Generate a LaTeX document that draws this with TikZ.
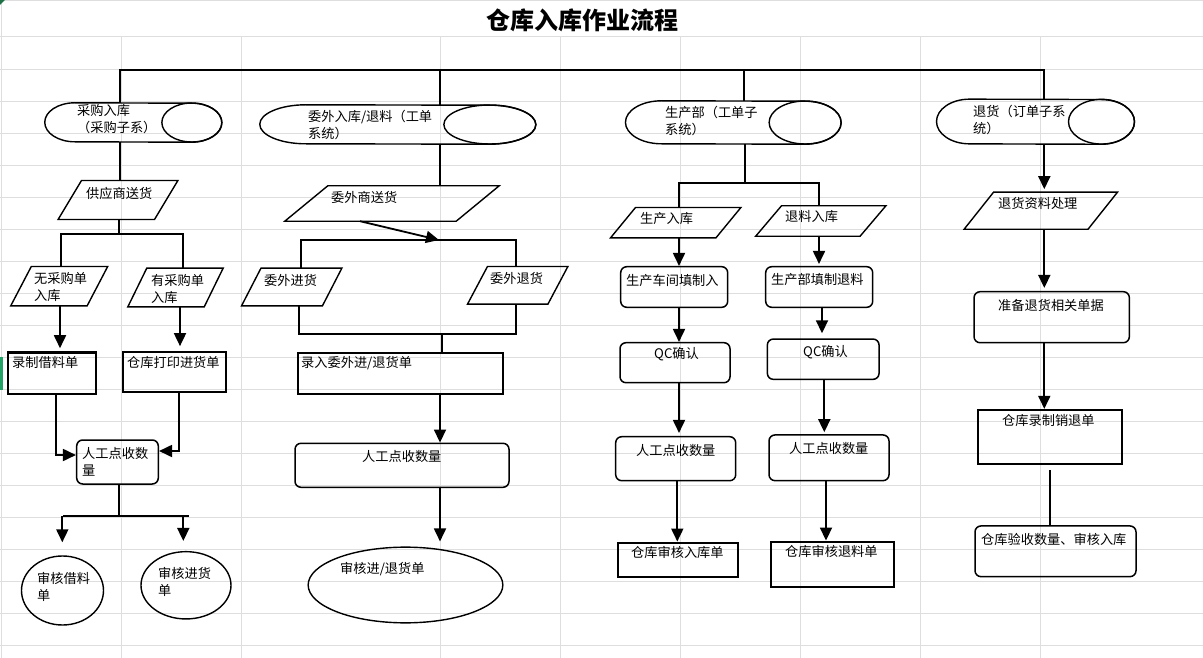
\documentclass[tikz,border=0pt]{standalone}
\usepackage{fontspec}
\setmainfont{Noto Sans CJK SC}
\usetikzlibrary{shapes.geometric,arrows.meta,calc}
\definecolor{gridc}{RGB}{222,222,222}
\definecolor{xlgreen}{RGB}{33,163,102}
\definecolor{xldark}{RGB}{30,113,69}
\tikzset{
  gridline/.style={draw=gridc, line width=1pt},
  conn/.style={draw=black, line width=2pt},
  arrow/.style={draw=black, line width=1.8pt, -{Triangle[length=13pt,width=12pt]}},
  boxR/.style={draw=black, line width=2.3pt, inner sep=0},
  boxU/.style={draw=black, line width=1.5pt, rounded corners=6pt, inner sep=0},
  boxE/.style={draw=black, line width=1.4pt, ellipse, inner sep=0},
  parastyle/.style={draw=black, line width=1.4pt, line join=miter},
  capstyle/.style={draw=black, line width=1.4pt},
  lbl/.style={inner sep=0, anchor=west, align=left, font=\fontsize{13.2}{17}\selectfont},
}
% name, cx, cy, w, h, skew
\newcommand\mypara[6]{%
  \node[inner sep=0, minimum width=#4pt, minimum height=#5pt] (#1) at (#2,#3) {};
  \draw[parastyle] ($(#1.north west)+(#6/2,0)$) -- ($(#1.north east)+(#6/2,0)$) -- ($(#1.south east)+(-#6/2,0)$) -- ($(#1.south west)+(-#6/2,0)$) -- cycle;
}
% name, cx, cy, w, h, rx
\newcommand\mycap[6]{%
  \node[inner sep=0, minimum width=#4pt, minimum height=#5pt] (#1) at (#2,#3) {};
  \draw[capstyle] ($(#1.north west)+(#6,0)$) arc[start angle=-90, end angle=-270, x radius=#6, y radius=#5/2] -- ($(#1.south east)+(-#6,0)$) arc[start angle=90, end angle=-90, x radius=#6, y radius=#5/2] -- cycle;
  \draw[capstyle] ($(#1.east)+(-#6,0)$) ellipse[x radius=#6, y radius=#5/2];
}
\begin{document}
\begin{tikzpicture}[x=1pt,y=-1pt]
\useasboundingbox (0,0) rectangle (1203,658);
\fill[white] (0,0) rectangle (1203,658);
% spreadsheet grid
\draw[gridline] (0,0.5) -- (1203,0.5);
\draw[gridline] (0,37) -- (1203,37);
\foreach \k in {1,...,19} {\draw[gridline] (0,{37+32.05*\k}) -- (1203,{37+32.05*\k});}
\draw[gridline] (1.5,0) -- (1.5,658);
\foreach \xx in {121,241,440,560,680,800,920,1040} {\draw[gridline] (\xx,37) -- (\xx,658);}
\fill[xldark] (0,0) -- (5,0) -- (0,5) -- cycle;
\fill[xlgreen] (0,357) rectangle (2.5,389.6);

% title
\node[font=\fontsize{24}{28}\selectfont\bfseries, inner sep=0] (title) at (582.5,20) {仓库入库作业流程};

% capsules
\mycap{C1}{133.3}{122.5}{176.7}{39}{30}
\mycap{C2}{397.8}{124.5}{275.7}{39}{46}
\mycap{C3}{733.3}{122.5}{215.3}{43}{36}
\mycap{C4}{1035.5}{121.7}{197.6}{44.7}{33}

% parallelograms
\mypara{P1}{118}{200}{96}{38.6}{23.4}
\mypara{P2}{392}{203.5}{171}{35}{43}
\mypara{P3}{59.2}{286.2}{76}{39}{20.6}
\mypara{P4}{175.5}{287.5}{76}{38.4}{19}
\mypara{P5}{291.7}{287}{80.5}{37.4}{19.5}
\mypara{P6}{517.7}{285.3}{80}{37.3}{20}
\mypara{P7}{675.7}{222.7}{105}{30}{25}
\mypara{P8}{820.8}{221}{104}{30}{25.8}
\mypara{P9}{1040.8}{210.7}{123.5}{36.7}{29.5}

% rectangles
\node[boxR, minimum width=87.4pt, minimum height=41.7pt] (R1) at (52,373.2) {};
\node[boxR, minimum width=102.4pt, minimum height=39.4pt] (R2) at (174.5,372) {};
\node[boxR, minimum width=205pt, minimum height=41.3pt] (R3) at (400.5,373.3) {};
\node[boxR, minimum width=120.6pt, minimum height=34.6pt] (R4) at (678,560) {};
\node[boxR, minimum width=123.6pt, minimum height=45pt] (R5) at (832.5,564.2) {};
\node[boxR, minimum width=144pt, minimum height=54pt] (R6) at (1049.7,437) {};

% rounded boxes
\node[boxU, minimum width=81.6pt, minimum height=44pt] (U1) at (117.5,462) {};
\node[boxU, minimum width=214pt, minimum height=44pt] (U2) at (402,465.3) {};
\node[boxU, minimum width=107pt, minimum height=40.6pt] (U3) at (674.2,287) {};
\node[boxU, minimum width=107pt, minimum height=40.6pt] (U4) at (819.2,287) {};
\node[boxU, minimum width=110pt, minimum height=40pt] (U5) at (675,362.7) {};
\node[boxU, minimum width=111.7pt, minimum height=40.3pt] (U6) at (823.2,359.2) {};
\node[boxU, minimum width=120pt, minimum height=44pt] (U7) at (675.7,458.7) {};
\node[boxU, minimum width=120pt, minimum height=45.7pt] (U8) at (829,457.8) {};
\node[boxU, minimum width=155.3pt, minimum height=51pt] (U9) at (1051.7,317.2) {};
\node[boxU, minimum width=161pt, minimum height=50.7pt] (U10) at (1055.5,551.3) {};

% ellipses
\node[boxE, minimum width=82pt, minimum height=69pt] (E1) at (62.5,590.5) {};
\node[boxE, minimum width=90pt, minimum height=67.3pt] (E2) at (186,585.3) {};
\node[boxE, minimum width=194.7pt, minimum height=75.7pt] (E3) at (405.5,585) {};

% top bar
\coordinate (tA) at (120,70.5);
\coordinate (tB) at (440,70.5);
\coordinate (tC) at (743.5,70.5);
\coordinate (tD) at (1044,70.5);
\draw[conn] (tA |- C1.north) -- (tA) -- (tD) -- (tD |- C4.north);
\draw[conn] (tB) -- (tB |- C2.north);
\draw[conn] (tC) -- (tC |- C3.north);

% column 1
\draw[conn] (tA |- C1.south) -- (tA |- P1.north);
\coordinate (sA) at (119,234);
\coordinate (sAL) at (61,234);
\coordinate (sAR) at (183.3,234);
\draw[conn] (sA |- P1.south) -- (sA);
\draw[conn] (sAL |- P3.north) -- (sAL) -- (sAR) -- (sAR |- P4.north);
\coordinate (xA) at (60,300);
\coordinate (xB) at (180,300);
\draw[arrow] (xA |- P3.south) -- ($(xA |- R1.north)+(0,-3)$);
\draw[arrow] (xB |- P4.south) -- ($(xB |- R2.north)+(0,-5)$);
\draw[arrow] ($(R1.south)+(3.7,0)$) |- ($(U1.west)+(0,-7)$);
\draw[arrow] ($(R2.south)+(4.5,0)$) |- ($(U1.east)+(0,-11)$);
\coordinate (sB) at (119,516);
\coordinate (sBL) at (63,516);
\coordinate (sBR) at (189,516);
\coordinate (aBL) at (62.3,516);
\coordinate (aBR) at (183.3,516);
\draw[conn] (sB |- U1.south) -- (sB);
\draw[conn] (sBL) -- (sBR);
\draw[arrow] (aBL) -- ($(aBL |- E1.north)+(0,-13)$);
\draw[arrow] (aBR) -- ($(aBR |- E2.north)+(0,-10)$);

% column 2
\draw[conn] (tB |- C2.south) -- (tB |- P2.north);
\coordinate (bL) at (301,240);
\coordinate (bR) at (516,240);
\coordinate (bM) at (439,240);
\draw[arrow] ($(P2.south)+(-32,0)$) -- (bM);
\draw[conn] (bL |- P5.north) -- (bL) -- (bR) -- (bR |- P6.north);
\coordinate (cL) at (299,334);
\coordinate (cR) at (515.5,334);
\coordinate (cM) at (441.5,334);
\draw[conn] (cL |- P5.south) -- (cL) -- (cR) -- (cR |- P6.south);
\draw[conn] (cM) -- (cM |- R3.north);
\draw[arrow] (tB |- R3.south) -- (tB |- U2.north);
\draw[arrow] (tB |- U2.south) -- ($(tB |- E3.north)+(0,-5)$);

% column 3
\coordinate (dM) at (745,183);
\coordinate (dL) at (679,183);
\coordinate (dR) at (818.5,183);
\draw[conn] (dM |- C3.south) -- (dM);
\draw[conn] (dL |- P7.north) -- (dL) -- (dR) -- (dR |- P8.north);
\draw[arrow] (dL |- P7.south) -- (dL |- U3.north);
\coordinate (xC) at (819,300);
\draw[arrow] (xC |- P8.south) -- ($(xC |- U4.north)+(0,-2)$);
\draw[arrow] (dL |- U3.south) -- (dL |- U5.north);
\coordinate (xD) at (822,300);
\draw[arrow] (xD |- U4.south) -- ($(xD |- U6.north)+(0,-5)$);
\draw[arrow] (dL |- U5.south) -- ($(dL |- U7.north)+(0,-3)$);
\coordinate (xE) at (824.3,300);
\draw[arrow] (xE |- U6.south) -- ($(xE |- U8.north)+(0,-2)$);
\coordinate (xF) at (677.3,300);
\draw[arrow] (xF |- U7.south) -- (xF |- R4.north);
\coordinate (xG) at (826,300);
\draw[arrow] (xG |- U8.south) -- (xG |- R5.north);

% column 4
\coordinate (xH) at (1044.3,300);
\draw[arrow] (xH |- C4.south) -- ($(xH |- P9.north)+(0,-3)$);
\draw[arrow] (xH |- P9.south) -- ($(xH |- U9.north)+(0,-3)$);
\draw[arrow] (xH |- U9.south) -- (xH |- R6.north);
\coordinate (xI) at (1050,300);
\draw[conn] ($(xI |- R6.south)+(0,5)$) -- (xI |- U10.north);

% labels
\node[lbl] (l1) at (77,119) {采购入库\\（采购子系）};
\node[lbl] (l2) at (308,125) {委外入库/退料（工单\\系统）};
\node[lbl] (l3) at (665,121) {生产部（工单子\\系统）};
\node[lbl] (l4) at (973,119.5) {退货（订单子系\\统）};
\node[lbl] (l5) at (86,193) {供应商送货};
\node[lbl] (l6) at (331,197) {委外商送货};
\node[lbl] (l7) at (34,287) {无采购单\\入库};
\node[lbl] (l8) at (151,289) {有采购单\\入库};
\node[lbl] (l9) at (264,280) {委外进货};
\node[lbl] (l10) at (490,278) {委外退货};
\node[lbl] (l11) at (640,219) {生产入库};
\node[lbl] (l12) at (785,217) {退料入库};
\node[lbl] (l13) at (998,203.3) {退货资料处理};
\node[lbl] (l14) at (12,363) {录制借料单};
\node[lbl] (l15) at (127,362) {仓库打印进货单};
\node[lbl] (l16) at (301,363) {录入委外进/退货单};
\node[lbl] (l17) at (82,461.5) {人工点收数\\量};
\node[lbl] (l18) at (362,456) {人工点收数量};
\node[lbl] (l19) at (37,586.5) {审核借料\\单};
\node[lbl] (l20) at (158,581.5) {审核进货\\单};
\node[lbl] (l21) at (340,569) {审核进/退货单};
\node[lbl] (l22) at (626,280) {生产车间填制入};
\node[lbl] (l23) at (771,280) {生产部填制退料};
\node[lbl] (l24) at (654,354) {QC确认};
\node[lbl] (l25) at (803,352) {QC确认};
\node[lbl] (l26) at (636,450) {人工点收数量};
\node[lbl] (l27) at (789,448) {人工点收数量};
\node[lbl] (l28) at (631,552) {仓库审核入库单};
\node[lbl] (l29) at (785,551) {仓库审核退料单};
\node[lbl] (l30) at (998,305.7) {准备退货相关单据};
\node[lbl] (l31) at (1002,421) {仓库录制销退单};
\node[lbl] (l32) at (981,539.3) {仓库验收数量、审核入库};
\end{tikzpicture}
\end{document}
